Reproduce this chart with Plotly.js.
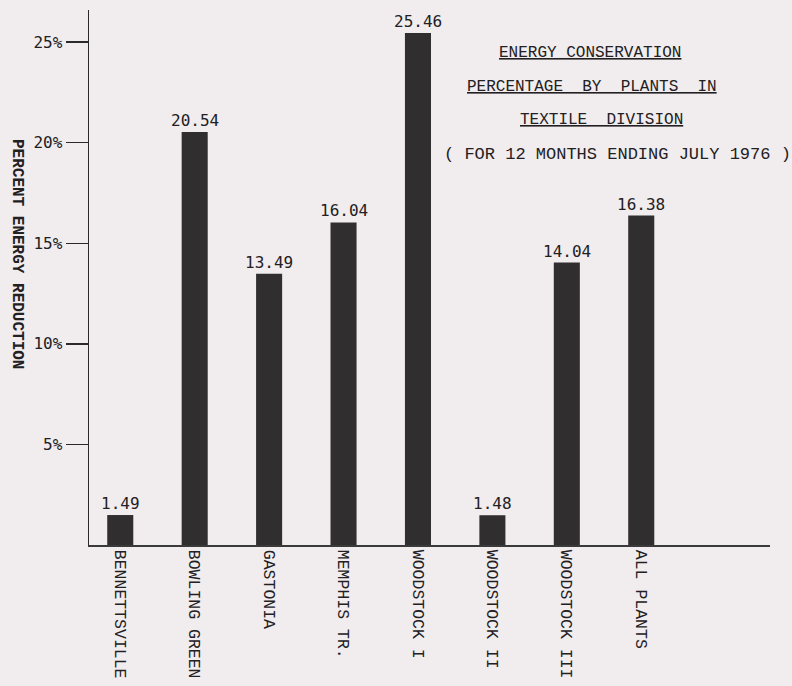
<!DOCTYPE html>
<html>
<head>
<meta charset="utf-8">
<script src="https://cdn.plot.ly/plotly-3.0.1.min.js"></script>
<style>
  html, body { margin: 0; padding: 0; background: #f1ecee; }
  #chart { width: 792px; height: 686px; }
</style>
</head>
<body>
<div id="chart"></div>
<script>
// ---- data ----
const plants = ["BENNETTSVILLE", "BOWLING GREEN", "GASTONIA", "MEMPHIS TR.", "WOODSTOCK I", "WOODSTOCK II", "WOODSTOCK III", "ALL PLANTS"];
const reduction = [1.49, 20.54, 13.49, 16.04, 25.46, 1.48, 14.04, 16.38];
const yTickValues = [5, 10, 15, 20, 25];
const yTickLabels = ["5%", "10%", "15%", "20%", "25%"];
const titleLines = ["<u>ENERGY CONSERVATION</u>", "<u>PERCENTAGE  BY  PLANTS  IN</u>", "<u>TEXTILE  DIVISION</u>", "( FOR 12 MONTHS ENDING JULY 1976 )"];
const yAxisTitle = "PERCENT ENERGY REDUCTION";

const typeFont = "Liberation Mono, Courier New, monospace";
const plotFont = "DejaVu Sans Mono, monospace";
const ink = "#222022";

// plot area in pixels (for placing free text in paper coordinates)
const L = 89, R = 770, T = 10, B = 545;
const px = x => (x - L) / (R - L);
const py = y => 1 - (y - T) / (B - T);

const trace = {
  type: "bar",
  x: plants,
  y: reduction,
  width: 0.35,
  marker: { color: "#312e30", line: { width: 0 } },
  hoverinfo: "none"
};

const annotations = [];
// value labels
plants.forEach((p, i) => {
  annotations.push({
    x: p, y: reduction[i], xref: "x", yref: "y",
    text: reduction[i].toFixed(2),
    showarrow: false, yanchor: "bottom", yshift: 0,
    font: { family: plotFont, size: 16, color: ink }
  });
});
// title lines
const titleX = [590, 592, 601, 617];
const titleY = [53, 87, 120, 155];
const titleSize = [16, 16, 16, 17];
titleLines.forEach((t, i) => {
  annotations.push({
    x: px(titleX[i]), y: py(titleY[i]),
    xref: "paper", yref: "paper",
    text: t, showarrow: false, xanchor: "center", yanchor: "middle",
    font: { family: typeFont, size: titleSize[i], color: ink }
  });
});
// y-axis title (reads top to bottom)
annotations.push({
  x: px(17), y: py(254),
  xref: "paper", yref: "paper",
  text: yAxisTitle, textangle: 90, showarrow: false,
  xanchor: "center", yanchor: "middle",
  font: { family: typeFont, size: 16, color: ink, weight: "bold" }
});

const layout = {
  width: 792, height: 686,
  margin: { l: L, r: 792 - R, t: T, b: 686 - B },
  paper_bgcolor: "#f1ecee",
  plot_bgcolor: "#f1ecee",
  showlegend: false,
  xaxis: {
    type: "category",
    range: [-0.42, 8.73],
    showgrid: false, zeroline: false,
    showline: true, linecolor: "#3a3a3a", linewidth: 1.5,
    ticks: "", tickangle: 90,
    tickfont: { family: typeFont, size: 16.5, color: ink },
    fixedrange: true
  },
  yaxis: {
    range: [0, 26.6],
    showgrid: false, zeroline: false,
    showline: true, linecolor: "#2a2a2a", linewidth: 1.5,
    tickvals: yTickValues, ticktext: yTickLabels,
    ticks: "outside", ticklen: 22, tickwidth: 1.5, tickcolor: "#2a2a2a",
    tickfont: { family: plotFont, size: 16, color: ink },
    fixedrange: true
  },
  annotations: annotations
};

Plotly.newPlot("chart", [trace], layout, { displayModeBar: false, staticPlot: true });
</script>
</body>
</html>
